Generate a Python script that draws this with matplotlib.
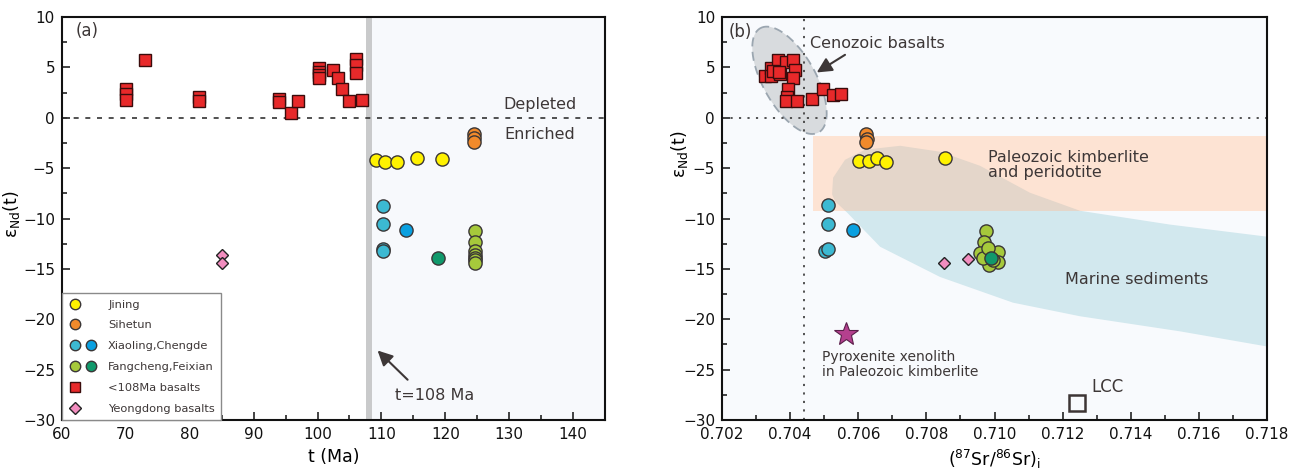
import matplotlib
matplotlib.use("Agg")
import matplotlib.pyplot as plt
import numpy as np
from matplotlib.lines import Line2D
from matplotlib.legend_handler import HandlerTuple
from matplotlib.patches import Polygon, Rectangle

# ---------------- data: panel (a) age vs eNd(t) ----------------
jining_t = [109.2, 110.5, 112.5, 115.5, 119.5]
jining_e = [-4.2, -4.4, -4.4, -4.0, -4.1]
sihetun_t = [124.5, 124.5, 124.5]
sihetun_e = [-1.6, -2.0, -2.4]
xiaoling_t = [110.3, 110.3, 110.3, 110.3]
xiaoling_e = [-8.8, -10.5, -13.0, -13.2]
chengde_t = [113.9]
chengde_e = [-11.1]
fangcheng_t = [124.7, 124.7, 124.7, 124.7, 124.7, 124.7, 124.7]
fangcheng_e = [-11.2, -12.3, -13.2, -13.6, -13.9, -14.1, -14.4]
feixian_t = [118.9]
feixian_e = [-13.9]
basalt_t = [70, 70, 70, 73, 81.5, 81.5, 94, 94, 95.8, 96.9, 100.3, 100.3,
            100.3, 100.3, 102.4, 103.2, 103.9, 104.9, 106, 106, 106, 106.9]
basalt_e = [2.9, 2.4, 1.8, 5.7, 2.1, 1.7, 1.9, 1.6, 0.45, 1.7, 4.9, 4.5,
            4.2, 3.9, 4.7, 3.9, 2.9, 1.7, 5.8, 5.2, 4.4, 1.8]
yeongdong_t = [85, 85]
yeongdong_e = [-13.6, -14.4]

# ---------------- data: panel (b) (87Sr/86Sr)i vs eNd(t) ----------------
jining_sr = [0.70603, 0.70632, 0.70654, 0.70681, 0.70855]
jining_eb = [-4.3, -4.3, -4.0, -4.4, -4.0]
sihetun_sr = [0.70624, 0.70627, 0.70622]
sihetun_eb = [-1.6, -2.1, -2.4]
xiaoling_sr = [0.70512, 0.70512, 0.70502, 0.70512]
xiaoling_eb = [-8.7, -10.5, -13.2, -13.0]
chengde_sr = [0.70585]
chengde_eb = [-11.1]
fangcheng_sr = [0.70974, 0.70970, 0.70957, 0.71009, 0.71010, 0.70985,
                0.70967, 0.70996, 0.70982]
fangcheng_eb = [-11.2, -12.3, -13.4, -13.3, -14.3, -14.6, -13.9, -14.1, -12.9]
feixian_sr = [0.70989]
feixian_eb = [-13.9]
basalt_sr = [0.70327, 0.70344, 0.70344, 0.70365, 0.70370, 0.70388, 0.70408,
             0.70414, 0.70409, 0.70395, 0.70392, 0.70388, 0.70419, 0.70463,
             0.70496, 0.70527, 0.70548, 0.70350, 0.70367]
basalt_eb = [4.1, 4.9, 4.1, 5.7, 4.3, 5.5, 5.7, 4.7, 3.9, 2.9, 2.1, 1.7, 1.7,
             1.85, 2.9, 2.3, 2.35, 4.6, 4.5]
yeongdong_sr = [0.70853, 0.70923]
yeongdong_eb = [-14.4, -14.0]
pyroxenite_sr = [0.70564]
pyroxenite_eb = [-21.5]
lcc_sr = [0.71241]
lcc_eb = [-28.3]
chur_sr = 0.7044

# reference fields in panel (b)
kimberlite_sr = (0.70468, 0.718)
kimberlite_e = (-9.3, -1.8)
marine_upper_sr = [0.70523, 0.70526, 0.70561, 0.70620, 0.70723, 0.70840,
                   0.70957, 0.71104, 0.71251, 0.71515, 0.71800]
marine_upper_e = [-7.6, -5.95, -4.17, -3.17, -2.78, -3.37, -4.76, -7.44,
                  -9.23, -10.6, -11.8]
marine_lower_sr = [0.71800, 0.71545, 0.71251, 0.71054, 0.70840, 0.70664,
                   0.70567, 0.70532]
marine_lower_e = [-22.7, -21.2, -19.7, -18.35, -15.8, -12.8, -9.4, -8.3]
cenozoic_center = (0.70398, 3.72)
cenozoic_major = (-0.000855, 5.175)
cenozoic_minor = (0.00068, 1.27)

# ---------------- styling ----------------
C_JINING = "#fff200"
C_SIHETUN = "#f18a2b"
C_XIAOLING = "#3cb9d2"
C_CHENGDE = "#0aa0e0"
C_FANGCHENG = "#a6c93b"
C_FEIXIAN = "#10996b"
C_BASALT = "#e8292a"
C_YEONG = "#f28dbf"
C_STAR = "#b4408e"
EDGE = "#3a3636"
TXT = "#3d3737"

plt.rcParams["font.family"] = ["DejaVu Sans"]
plt.rcParams["mathtext.default"] = "regular"

fig = plt.figure(figsize=(13.05, 4.76), dpi=100)
axa = fig.add_axes([0.0475, 0.1176, 0.4161, 0.8466])
axb = fig.add_axes([0.5533, 0.1176, 0.4176, 0.8466])

circ = dict(marker="o", ls="none", ms=9.5, mec=EDGE, mew=1.0)
sq = dict(marker="s", ls="none", ms=8.5, mec="#3a0c0c", mew=1.0)
dia = dict(marker="D", ls="none", ms=6.5, mec="#222222", mew=1.0)


def style_axes(ax):
    for s in ax.spines.values():
        s.set_linewidth(1.5)
        s.set_color("#111111")
    ax.tick_params(which="both", direction="in", top=False, right=False,
                   labelsize=11, width=1.1, colors="#111111")
    ax.tick_params(which="major", length=6, pad=5)
    ax.tick_params(which="minor", length=3.5)


# ---------------- panel (a) ----------------
axa.set_xlim(60, 145)
axa.set_ylim(-30, 10)
axa.axvspan(108, 145, color="#f7f9fc", zorder=0, lw=0)
axa.axvspan(107.6, 108.6, color="#c9cacb", zorder=1, lw=0)
axa.axhline(0, color="#333333", lw=1.2, ls=(0, (3, 4)), zorder=2)

axa.plot(basalt_t, basalt_e, color=C_BASALT, zorder=4, **sq)
axa.plot(yeongdong_t, yeongdong_e, color=C_YEONG, zorder=4, **dia)
axa.plot(jining_t, jining_e, color=C_JINING, zorder=4, **circ)
axa.plot(sihetun_t, sihetun_e, color=C_SIHETUN, zorder=4, **circ)
axa.plot(xiaoling_t, xiaoling_e, color=C_XIAOLING, zorder=4, **circ)
axa.plot(chengde_t, chengde_e, color=C_CHENGDE, zorder=4, **circ)
axa.plot(fangcheng_t, fangcheng_e, color=C_FANGCHENG, zorder=4, **circ)
axa.plot(feixian_t, feixian_e, color=C_FEIXIAN, zorder=4, **circ)

axa.set_xticks(np.arange(60, 141, 10))
axa.set_xticks(np.arange(65, 145, 5), minor=True)
axa.set_yticks(np.arange(-30, 11, 5))
axa.set_yticks(np.arange(-27.5, 10, 2.5), minor=True)
style_axes(axa)
axa.set_xlabel("t (Ma)", fontsize=12.5, labelpad=4)
axa.set_ylabel("ε$_{Nd}$(t)", fontsize=12.5)
axa.yaxis.set_label_coords(-0.074, 0.51)

axa.text(62.2, 8.6, "(a)", fontsize=12, color=TXT, va="center")
axa.text(134.8, 1.3, "Depleted", fontsize=11.5, color=TXT, ha="center", va="center")
axa.text(134.8, -1.7, "Enriched", fontsize=11.5, color=TXT, ha="center", va="center")
axa.annotate("", xy=(109.4, -23.1), xytext=(114.1, -26.0),
             arrowprops=dict(arrowstyle="-|>,head_length=0.9,head_width=0.45",
                             color=TXT, lw=1.5, shrinkA=0, shrinkB=0), zorder=5)
axa.text(112.2, -27.6, "t=108 Ma", fontsize=11.5, color=TXT, va="center")

blank = Line2D([], [], ls="none", marker="o", ms=7, mfc="none", mec="none")
lg_circ = dict(ls="none", marker="o", ms=7.5, mec=EDGE, mew=1.0)
handles = [
    (Line2D([], [], mfc=C_JINING, **lg_circ), blank),
    (Line2D([], [], mfc=C_SIHETUN, **lg_circ), blank),
    (Line2D([], [], mfc=C_XIAOLING, **lg_circ), Line2D([], [], mfc=C_CHENGDE, **lg_circ)),
    (Line2D([], [], mfc=C_FANGCHENG, **lg_circ), Line2D([], [], mfc=C_FEIXIAN, **lg_circ)),
    (Line2D([], [], ls="none", marker="s", ms=6.5, mfc=C_BASALT, mec="#3a0c0c", mew=1.0), blank),
    (Line2D([], [], ls="none", marker="D", ms=6, mfc=C_YEONG, mec="#222222", mew=1.0), blank),
]
labels = ["Jining", "Sihetun", "Xiaoling,Chengde", "Fangcheng,Feixian",
          "<108Ma basalts", "Yeongdong basalts"]
leg = axa.legend(handles, labels, loc="lower left", borderaxespad=0,
                 handler_map={tuple: HandlerTuple(ndivide=None, pad=0.25)},
                 fontsize=8.2, handlelength=2.6, handletextpad=0.9,
                 labelspacing=0.95, borderpad=0.55, fancybox=False,
                 framealpha=1, edgecolor="#8a8a8a", labelcolor=TXT)
leg.get_frame().set_linewidth(1.0)
leg.set_zorder(6)

# ---------------- panel (b) ----------------
axb.set_xlim(0.702, 0.718)
axb.set_ylim(-30, 10)
axb.set_facecolor("#f8fafd")

kim = Rectangle((kimberlite_sr[0], kimberlite_e[0]),
                kimberlite_sr[1] - kimberlite_sr[0],
                kimberlite_e[1] - kimberlite_e[0],
                facecolor="#fde3d3", edgecolor="none", zorder=1)
axb.add_patch(kim)
marine_xy = np.column_stack([marine_upper_sr + marine_lower_sr,
                             marine_upper_e + marine_lower_e])
axb.add_patch(Polygon(marine_xy, closed=True, facecolor="#d2e8ee",
                      edgecolor="none", zorder=0.9))
overlap = Polygon(marine_xy, closed=True, facecolor="#e4d6ca",
                  edgecolor="none", zorder=1.1)
axb.add_patch(overlap)
overlap.set_clip_path(kim)

# Cenozoic basalt field
tt = np.linspace(0, 2 * np.pi, 200)
ex = cenozoic_center[0] + cenozoic_major[0] * np.cos(tt) + cenozoic_minor[0] * np.sin(tt)
ey = cenozoic_center[1] + cenozoic_major[1] * np.cos(tt) + cenozoic_minor[1] * np.sin(tt)
axb.fill(ex, ey, facecolor="#d8dbde", edgecolor="none", zorder=1.5)
axb.plot(ex, ey, color="#9ba6b0", lw=1.3, ls=(0, (5, 3)), zorder=1.6)

axb.axvline(chur_sr, color="#444444", lw=1.3, ls=(0, (1.2, 3.5)), zorder=2)
axb.axhline(0, color="#444444", lw=1.3, ls=(0, (1.2, 3.5)), zorder=2)

axb.plot(basalt_sr, basalt_eb, color=C_BASALT, zorder=4, **sq)
axb.plot(yeongdong_sr, yeongdong_eb, color=C_YEONG, zorder=4, **dia)
axb.plot(jining_sr, jining_eb, color=C_JINING, zorder=4, **circ)
axb.plot(sihetun_sr, sihetun_eb, color=C_SIHETUN, zorder=4, **circ)
axb.plot(xiaoling_sr, xiaoling_eb, color=C_XIAOLING, zorder=4, **circ)
axb.plot(chengde_sr, chengde_eb, color=C_CHENGDE, zorder=4, **circ)
axb.plot(fangcheng_sr, fangcheng_eb, color=C_FANGCHENG, zorder=4, **circ)
axb.plot(feixian_sr, feixian_eb, color=C_FEIXIAN, zorder=4, **circ)
axb.plot(pyroxenite_sr, pyroxenite_eb, ls="none", marker="*", ms=18,
         mfc=C_STAR, mec="#5a1f4a", mew=0.8, zorder=4)
axb.plot(lcc_sr, lcc_eb, ls="none", marker="s", ms=11, mfc="none",
         mec="#3d3535", mew=1.8, zorder=4)

axb.set_xticks(np.arange(0.702, 0.7181, 0.002))
axb.set_xticks(np.arange(0.703, 0.718, 0.002), minor=True)
axb.set_xticklabels([f"{v:.3f}" for v in np.arange(0.702, 0.7181, 0.002)])
axb.set_yticks(np.arange(-30, 11, 5))
axb.set_yticks(np.arange(-27.5, 10, 2.5), minor=True)
style_axes(axb)
axb.set_xlabel("($^{87}$Sr/$^{86}$Sr)$_{i}$", fontsize=12.5, labelpad=4)
axb.set_ylabel("ε$_{Nd}$(t)", fontsize=12.5)
axb.yaxis.set_label_coords(-0.058, 0.66)

axb.text(0.70218, 8.55, "(b)", fontsize=12, color=TXT, va="center")
axb.text(0.70458, 7.4, "Cenozoic basalts", fontsize=11.5, color=TXT, va="center")
axb.annotate("", xy=(0.70478, 4.5), xytext=(0.70561, 6.25),
             arrowprops=dict(arrowstyle="-|>,head_length=0.9,head_width=0.45",
                             color=TXT, lw=1.5, shrinkA=0, shrinkB=0), zorder=5)
axb.text(0.70982, -4.7, "Paleozoic kimberlite\nand peridotite", fontsize=11.5,
         color=TXT, va="center", linespacing=1.05)
axb.text(0.71207, -16.1, "Marine sediments", fontsize=11.5, color=TXT, va="center")
axb.text(0.70493, -24.5, "Pyroxenite xenolith\nin Paleozoic kimberlite",
         fontsize=10, color=TXT, va="center", linespacing=1.1)
axb.text(0.71285, -26.7, "LCC", fontsize=12, color=TXT, va="center")

fig.savefig("out.png", dpi=100, facecolor="white")
